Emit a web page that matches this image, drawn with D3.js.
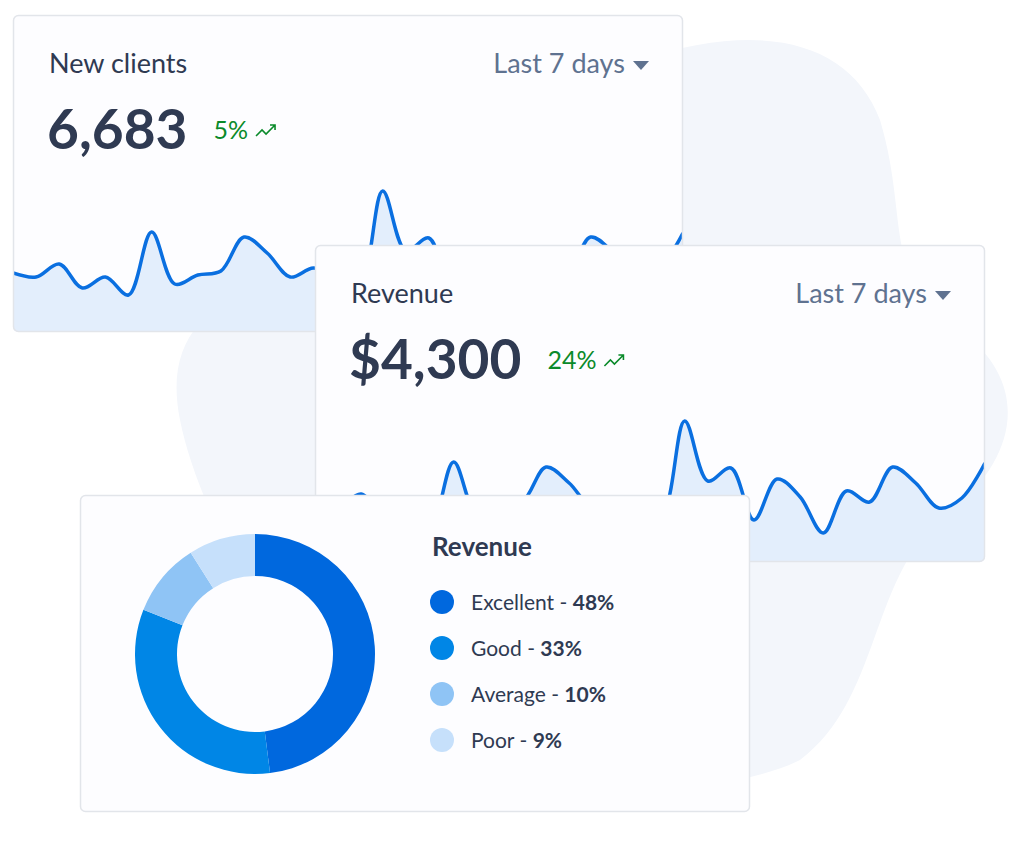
<!DOCTYPE html>
<html>
<meta charset="utf-8">
<style>
body { margin:0; background:#fff; }
svg { display:block; font-family: Lato, "Open Sans", sans-serif; }
</style>
<body>
<svg id="chart" width="1020" height="858"></svg>
<script src="https://cdn.jsdelivr.net/npm/d3@7"></script>
<script>
// sparkline values (same trace on both cards)
var trend = [59,55,68,44,55,37,100,48,57,61,95,79,55,64,56,48,141,81,94,42,83,65,29,71,60,95,79,54,64,99];
var cards = [
  {title:"New clients", value:"6,683", change:"5%", period:"Last 7 days", x:13, y:15},
  {title:"Revenue", value:"$4,300", change:"24%", period:"Last 7 days", x:315, y:245}
];
var donutLabels = ["Excellent","Good","Average","Poor"];
var donutValues = [48,33,10,9];
var donutColors = ["#0068de","#0086e6","#8fc4f5","#c6e0fb"];

var W = 670, H = 317;
var svg = d3.select("#chart");

// background blob
svg.append("path")
  .attr("d","M640,60 C760,20 850,40 880,120 C910,220 880,280 960,330 C1040,390 1010,470 940,520 C870,580 880,700 800,760 C720,800 560,790 460,760 C300,720 200,520 180,420 C160,320 230,290 320,260 C420,230 500,110 640,60 Z")
  .attr("fill","#f3f6fb");

var defs = svg.append("defs");
var x = d3.scaleLinear().domain([0, trend.length-1]).range([0, W]);
var y = d3.scaleLinear().domain([0, H]).range([H, 0]);

cards.forEach(function(c, i) {
  var g = svg.append("g").attr("transform","translate("+c.x+","+c.y+")");
  defs.append("clipPath").attr("id","clip"+i)
    .append("rect").attr("width",W).attr("height",H).attr("rx",5);
  g.append("rect").attr("width",W).attr("height",H).attr("rx",5)
    .attr("fill","#fdfdff");
  var cg = g.append("g").attr("clip-path","url(#clip"+i+")");
  cg.append("path").datum(trend)
    .attr("fill","#e3eefc")
    .attr("d", d3.area().x(function(d,j){return x(j);}).y0(H).y1(function(d){return y(d);}).curve(d3.curveCatmullRom));
  cg.append("path").datum(trend)
    .attr("fill","none").attr("stroke","#0a6fe0").attr("stroke-width",3.5)
    .attr("d", d3.line().x(function(d,j){return x(j);}).y(function(d){return y(d);}).curve(d3.curveCatmullRom));
  g.append("rect").attr("x",0.5).attr("y",0.5).attr("width",W-1).attr("height",H-1).attr("rx",5)
    .attr("fill","none").attr("stroke","#e2e5ea").attr("stroke-width",1.5);
  g.append("text").attr("x",36).attr("y",58).attr("font-size",27).attr("fill","#2f3a52").text(c.title);
  g.append("text").attr("x",612).attr("y",58).attr("text-anchor","end").attr("font-size",27).attr("fill","#5f7290").text(c.period);
  g.append("path").attr("d","M620,46 L636,46 L628,55 Z").attr("fill","#5f7290");
  var v = g.append("text").attr("x",34).attr("y",134).attr("font-size",55).attr("font-weight",700).attr("fill","#2f3a52").text(c.value);
  var vw = v.node().getComputedTextLength();
  var ch = g.append("text").attr("x",34+vw+26).attr("y",124).attr("font-size",25).attr("fill","#0a8a2a").text(c.change);
  var cw = ch.node().getComputedTextLength();
  var ax = 34+vw+26+cw+8;
  g.append("path").attr("d","M"+ax+",121 l6,-6 l4,4 l9,-9 m-5,0 h5 v5")
    .attr("fill","none").attr("stroke","#0a8a2a").attr("stroke-width",1.6);
});

// donut card
var dg = svg.append("g").attr("transform","translate(80,495)");
dg.append("rect").attr("x",0.5).attr("y",0.5).attr("width",W-1).attr("height",H-1).attr("rx",5)
  .attr("fill","#fdfdff").attr("stroke","#e2e5ea").attr("stroke-width",1.5);
var pie = d3.pie().sort(null);
var arc = d3.arc().innerRadius(78).outerRadius(120);
dg.append("g").attr("transform","translate(175,159)")
  .selectAll("path").data(pie(donutValues)).join("path")
  .attr("d", arc).attr("fill", function(d,i){return donutColors[i];});
dg.append("text").attr("x",352).attr("y",61).attr("font-size",26).attr("font-weight",700).attr("fill","#2f3a52").text("Revenue");
var leg = dg.selectAll(".leg").data(donutLabels).join("g")
  .attr("transform", function(d,i){return "translate(362,"+(107+i*46)+")";});
leg.append("circle").attr("r",12).attr("fill", function(d,i){return donutColors[i];});
var lt = leg.append("text").attr("x",29).attr("y",8).attr("font-size",21).attr("fill","#2f3a52");
lt.append("tspan").text(function(d){return d+" - ";});
lt.append("tspan").attr("font-weight",700).text(function(d,i){return donutValues[i]+"%";});
</script>
</body>
</html>
